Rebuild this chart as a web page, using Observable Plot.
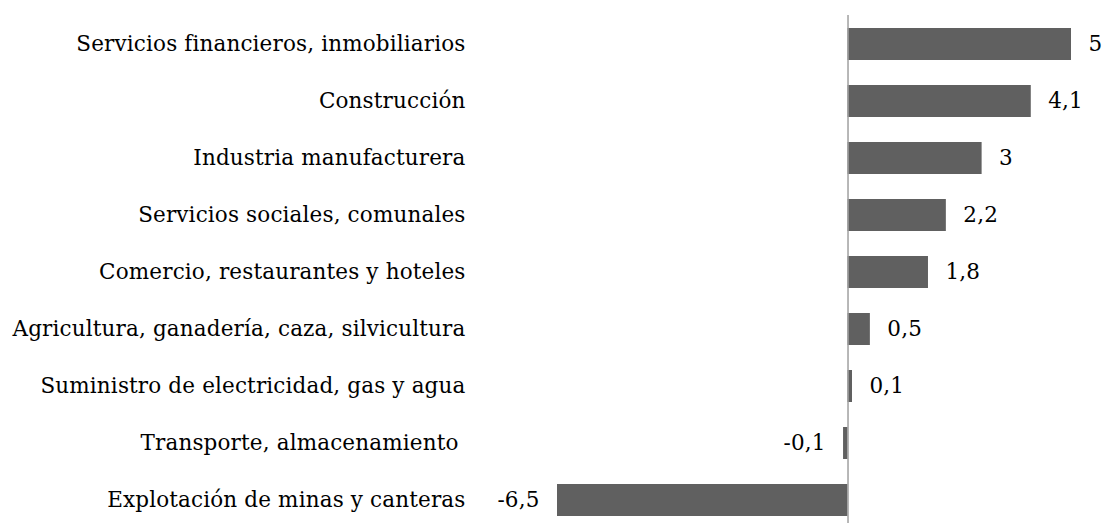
<!DOCTYPE html>
<html>
<head>
<meta charset="utf-8">
<script src="https://cdn.jsdelivr.net/npm/d3@7"></script>
<script src="https://cdn.jsdelivr.net/npm/@observablehq/plot@0.6"></script>
<style>
  html, body { margin: 0; padding: 0; background: #fff; }
  #chart svg { display: block; }
</style>
</head>
<body>
<div id="chart"></div>
<script>
const categories = [
  "Servicios financieros, inmobiliarios",
  "Construcción",
  "Industria manufacturera",
  "Servicios sociales, comunales",
  "Comercio, restaurantes y hoteles",
  "Agricultura, ganadería, caza, silvicultura",
  "Suministro de electricidad, gas y agua",
  "Transporte, almacenamiento\u00a0",
  "Explotación de minas y canteras"
];
const values = [5, 4.1, 3, 2.2, 1.8, 0.5, 0.1, -0.1, -6.5];

const data = categories.map((c, i) => ({category: c, value: values[i]}));
const fmt = v => String(v).replace(".", ",");
const font = "DejaVu Serif";
const fs = 21.5;

const chart = Plot.plot({
  width: 1103,
  height: 523,
  marginTop: 15,
  marginBottom: 0,
  marginLeft: 557,
  marginRight: 32,
  style: {fontFamily: font, fontSize: fs + "px", color: "#000", background: "#fff", letterSpacing: "0.15px"},
  x: {domain: [-6.5, 5], axis: null},
  y: {domain: categories, range: [21.5, 523], paddingInner: 0.43, paddingOuter: 0.1, label: null},
  marks: [
    Plot.barX(data, {x: "value", y: "category", fill: "#606060"}),
    Plot.ruleX([0], {stroke: "#a0a0a0", strokeWidth: 1.5}),
    Plot.axisY({tickSize: 0, tickPadding: 92, fontSize: fs, fontFamily: font, fill: "#000", label: null}),
    Plot.text(data.filter(d => d.value >= 0), {x: "value", y: "category", text: d => fmt(d.value), textAnchor: "start", dx: 17, fontSize: fs, fill: "#000"}),
    Plot.text(data.filter(d => d.value < 0), {x: "value", y: "category", text: d => fmt(d.value), textAnchor: "end", dx: -18, fontSize: fs, fill: "#000"})
  ]
});
document.getElementById("chart").appendChild(chart);
</script>
</body>
</html>
